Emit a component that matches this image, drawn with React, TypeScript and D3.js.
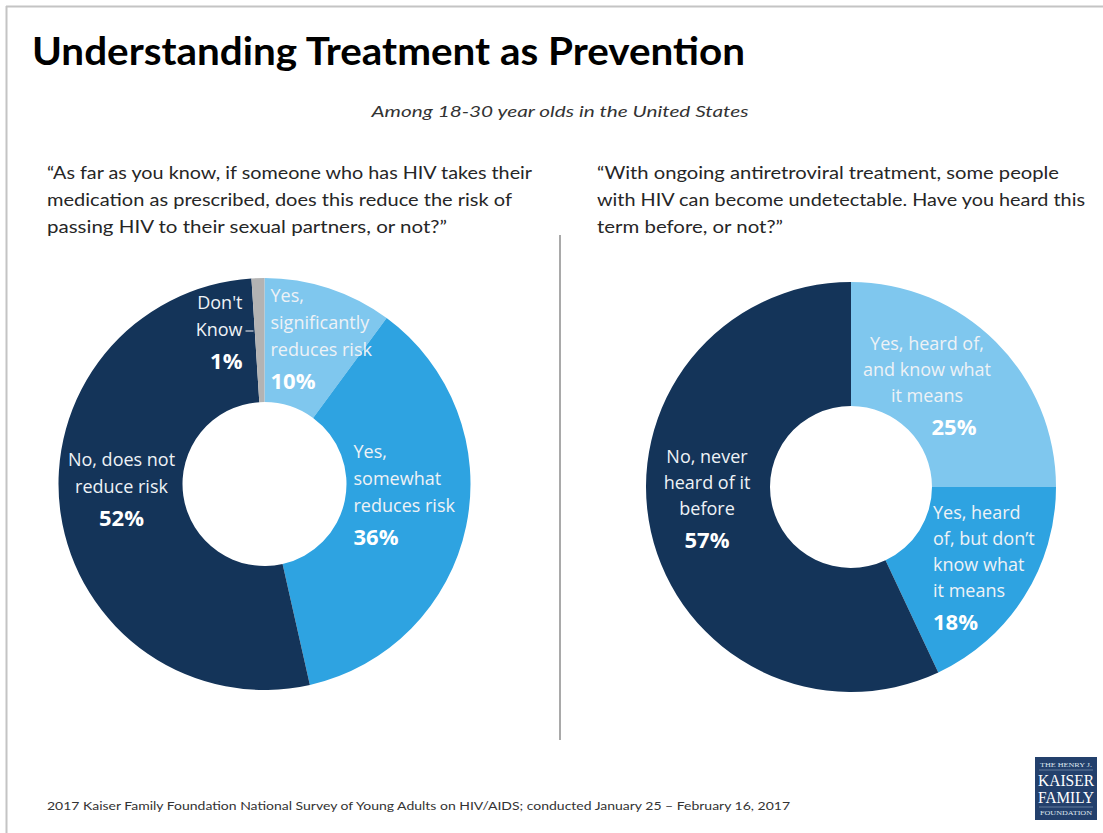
import React from "react";
import * as d3 from "d3";

// ---- Data ----
const leftCategories = [
  "Yes, significantly reduces risk",
  "Yes, somewhat reduces risk",
  "No, does not reduce risk",
  "Don't Know",
];
const leftValues = [10, 36, 52, 1];
const leftLabelLines = [
  ["Yes,", "significantly", "reduces risk"],
  ["Yes,", "somewhat", "reduces risk"],
  ["No, does not", "reduce risk"],
  ["Don't", "Know"],
];

const rightCategories = [
  "Yes, heard of, and know what it means",
  "Yes, heard of, but don't know what it means",
  "No, never heard of it before",
];
const rightValues = [25, 18, 57];
const rightLabelLines = [
  ["Yes, heard of,", "and know what", "it means"],
  ["Yes, heard", "of, but don\u2019t", "know what", "it means"],
  ["No, never", "heard of it", "before"],
];

const leftQuestion = [
  "\u201CAs far as you know, if someone who has HIV takes their",
  "medication as prescribed, does this reduce the risk of",
  "passing HIV to their sexual partners, or not?\u201D",
];
const rightQuestion = [
  "\u201CWith ongoing antiretroviral treatment, some people",
  "with HIV can become undetectable. Have you heard this",
  "term before, or not?\u201D",
];

const titleText = "Understanding Treatment as Prevention";
const subtitleText = "Among 18-30 year olds in the United States";
const footerText =
  "2017 Kaiser Family Foundation National Survey of Young Adults on HIV/AIDS; conducted January 25 \u2013 February 16, 2017";

// ---- Styles / layout ----
const leftColors = ["#7fc7ee", "#2ea3e1", "#143459", "#b3b3b3"];
const rightColors = ["#7fc7ee", "#2ea3e1", "#143459"];

const leftQuestionWidths = [485, 465, 400];
const rightQuestionWidths = [462, 488, 186];

// label offsets relative to donut centre: [dx, dy(first baseline), anchor, pct dx]
const leftLabelLayout: [number, number, string, number][] = [
  [6, -182, "start", 0],
  [89, -26, "start", 0],
  [-143, -18, "middle", 0],
  [-22, -175, "end", 0],
];
const rightLabelLayout: [number, number, string, number][] = [
  [76, -137, "middle", 27],
  [82, 32, "start", 0],
  [-144, -24, "middle", 0],
];

const LABEL_FONT = "'Open Sans', 'Noto Sans', sans-serif";
const TEXT_FONT = "Lato, 'Open Sans', sans-serif";

function Donut({
  cx,
  cy,
  values,
  colors,
  lines,
  layout,
  lineH,
  outerR,
  innerR,
  extra,
}: any) {
  const pie = d3
    .pie<number>()
    .sort(null)
    .value((d) => d)
    .startAngle(0)
    .endAngle(2 * Math.PI);
  const arc = d3.arc<any>().innerRadius(innerR).outerRadius(outerR);
  const arcs = pie(values);
  return (
    <g transform={`translate(${cx},${cy})`}>
      {arcs.map((a, i) => (
        <path key={i} d={arc(a) as string} fill={colors[i]} />
      ))}
      {arcs.map((a, i) => {
        const [dx, dy, anchor, pdx] = layout[i];
        const ls: string[] = lines[i];
        return (
          <g key={"l" + i}>
            {ls.map((t, j) => (
              <text
                key={j}
                x={dx}
                y={dy + j * lineH}
                textAnchor={anchor}
                fontFamily={LABEL_FONT}
                fontSize={18}
                fill="#eef2f6"
              >
                {t}
              </text>
            ))}
            <text
              x={dx + pdx}
              y={dy + (ls.length - 1) * lineH + 33}
              textAnchor={anchor}
              fontFamily={LABEL_FONT}
              fontSize={22}
              fontWeight={700}
              fill="#ffffff"
            >
              {`${values[i]}%`}
            </text>
          </g>
        );
      })}
      {extra}
    </g>
  );
}

export default function App() {
  return (
    <svg
      width={1103}
      height={833}
      style={{ position: "absolute", left: 0, top: 0, background: "#fff" }}
    >
      <rect x={0} y={0} width={1103} height={833} fill="#ffffff" />
      {/* frame */}
      <line x1={6} y1={6.5} x2={1103} y2={6.5} stroke="#c4c4c4" strokeWidth={2} />
      <line x1={6.5} y1={6} x2={6.5} y2={833} stroke="#c4c4c4" strokeWidth={2} />

      {/* title */}
      <text
        x={32}
        y={65}
        fontFamily={TEXT_FONT}
        fontWeight={700}
        fontSize={39}
        fill="#000"
        textLength={713}
        lengthAdjust="spacingAndGlyphs"
      >
        {titleText}
      </text>
      <text
        x={560}
        y={117}
        textAnchor="middle"
        fontFamily={TEXT_FONT}
        fontStyle="italic"
        fontSize={16}
        fill="#333"
        textLength={377}
        lengthAdjust="spacingAndGlyphs"
      >
        {subtitleText}
      </text>

      {/* questions */}
      {leftQuestion.map((t, i) => (
        <text
          key={"lq" + i}
          x={47}
          y={179 + i * 27}
          fontFamily={TEXT_FONT}
          fontSize={18}
          fill="#262626"
          textLength={leftQuestionWidths[i]}
          lengthAdjust="spacingAndGlyphs"
        >
          {t}
        </text>
      ))}
      {rightQuestion.map((t, i) => (
        <text
          key={"rq" + i}
          x={597}
          y={179 + i * 27}
          fontFamily={TEXT_FONT}
          fontSize={18}
          fill="#262626"
          textLength={rightQuestionWidths[i]}
          lengthAdjust="spacingAndGlyphs"
        >
          {t}
        </text>
      ))}

      {/* divider */}
      <line x1={560} y1={235} x2={560} y2={740} stroke="#8c8c8c" strokeWidth={1.5} />

      <Donut
        cx={264.5}
        cy={484}
        values={leftValues}
        colors={leftColors}
        lines={leftLabelLines}
        layout={leftLabelLayout}
        lineH={27}
        outerR={206}
        innerR={82}
        extra={<line x1={-19} y1={-153} x2={-11} y2={-153} stroke="#d0d6de" strokeWidth={1.2} />}
      />
      <Donut
        cx={851}
        cy={487}
        values={rightValues}
        colors={rightColors}
        lines={rightLabelLines}
        layout={rightLabelLayout}
        lineH={26}
        outerR={205}
        innerR={81}
      />

      {/* footer */}
      <text
        x={47}
        y={810}
        fontFamily={TEXT_FONT}
        fontSize={11}
        fill="#333"
        textLength={743}
        lengthAdjust="spacingAndGlyphs"
      >
        {footerText}
      </text>

      {/* logo */}
      <g>
        <rect x={1035} y={757} width={62} height={63} fill="#23406c" />
        <text x={1066} y={767} textAnchor="middle" fontFamily="'Liberation Serif', serif" fontSize={6} fill="#dfe6ef" textLength={52} lengthAdjust="spacingAndGlyphs">THE HENRY J.</text>
        <line x1={1039} y1={770} x2={1093} y2={770} stroke="#8fa3bf" strokeWidth={0.6} />
        <text x={1066} y={786} textAnchor="middle" fontFamily="'Liberation Serif', serif" fontSize={16} fill="#ffffff" textLength={56} lengthAdjust="spacingAndGlyphs">KAISER</text>
        <text x={1066} y={803} textAnchor="middle" fontFamily="'Liberation Serif', serif" fontSize={16} fill="#ffffff" textLength={56} lengthAdjust="spacingAndGlyphs">FAMILY</text>
        <line x1={1039} y1={807} x2={1093} y2={807} stroke="#8fa3bf" strokeWidth={0.6} />
        <text x={1066} y={815} textAnchor="middle" fontFamily="'Liberation Serif', serif" fontSize={6} fill="#dfe6ef" textLength={52} lengthAdjust="spacingAndGlyphs">FOUNDATION</text>
      </g>
    </svg>
  );
}
